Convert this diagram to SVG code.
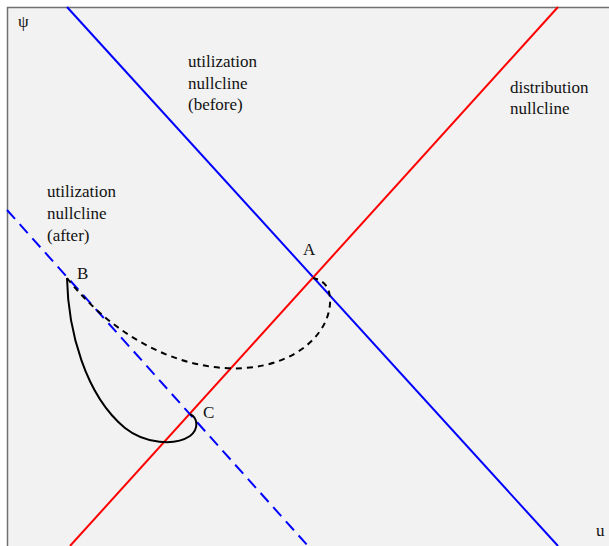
<svg xmlns="http://www.w3.org/2000/svg" width="609" height="546" viewBox="0 0 609 546">
<style>
text{font-family:"Liberation Serif","Times New Roman",serif;font-size:17px;fill:#111}
.pt{font-size:17px}
</style>
<rect width="609" height="546" fill="#fff"/>
<rect x="7" y="7" width="602" height="539" fill="#f2f2f2"/>
<path d="M7.5,546V7.5H609" fill="none" stroke="#707070" stroke-width="1.5"/>
<g id="connectors" fill="none">
<line id="util-before" x1="67" y1="7" x2="558" y2="546" stroke="#0000ff" stroke-width="2"/>
<line id="distribution" x1="70" y1="546" x2="558" y2="7" stroke="#ff0000" stroke-width="2"/>
<line id="util-after" x1="7" y1="210" x2="308" y2="546" stroke="#0000ff" stroke-width="2" stroke-dasharray="12,7"/>
<path id="traj-dashed" d="M67,278 C120,345 190,372 245,368 C300,364 332,330 330,298 C329,285 322,280 313,278" stroke="#000" stroke-width="2" stroke-dasharray="6,5"/>
<path id="traj-solid" d="M67,278 C68,330 85,395 125,428 C145,444 175,446 190,436 C199,429 198,418 190,414" stroke="#000" stroke-width="2"/>
</g>
<g id="axis-psi"><text x="18" y="27">ψ</text></g>
<g id="axis-u"><text x="596" y="536">u</text></g>
<g id="label-before"><text x="188" y="67">utilization</text><text x="188" y="89">nullcline</text><text x="188" y="110">(before)</text></g>
<g id="label-distribution"><text x="510" y="93">distribution</text><text x="510" y="114">nullcline</text></g>
<g id="label-after"><text x="47" y="197">utilization</text><text x="47" y="219">nullcline</text><text x="47" y="241">(after)</text></g>
<g id="point-A"><text class="pt" x="303" y="255">A</text></g>
<g id="point-B"><text class="pt" x="77" y="279">B</text></g>
<g id="point-C"><text class="pt" x="203" y="418">C</text></g>
</svg>
